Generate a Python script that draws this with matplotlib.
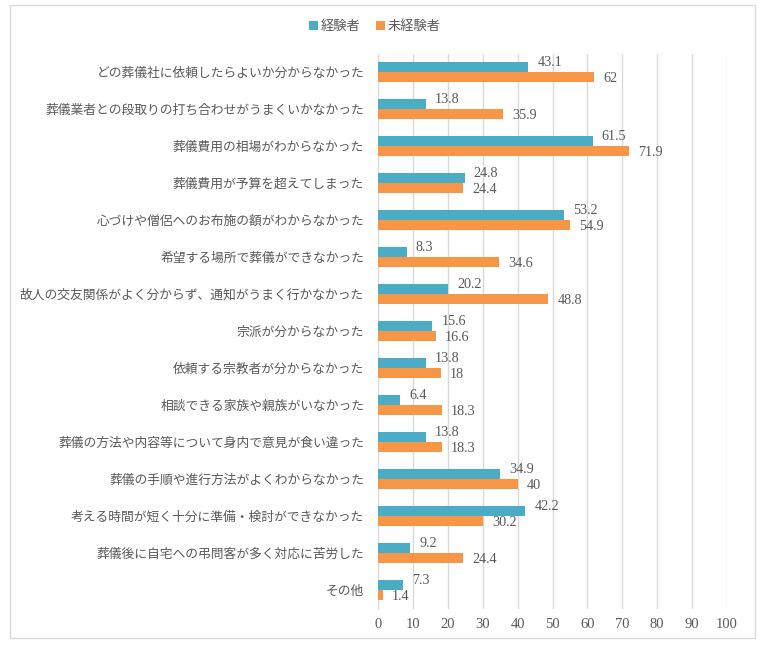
import matplotlib
matplotlib.use("Agg")
import matplotlib.pyplot as plt
from matplotlib.patches import Rectangle
import numpy as np

plt.rcParams['font.family'] = ['Noto Sans CJK JP', 'DejaVu Sans']

categories = [
    "どの葬儀社に依頼したらよいか分からなかった",
    "葬儀業者との段取りの打ち合わせがうまくいかなかった",
    "葬儀費用の相場がわからなかった",
    "葬儀費用が予算を超えてしまった",
    "心づけや僧侶へのお布施の額がわからなかった",
    "希望する場所で葬儀ができなかった",
    "故人の交友関係がよく分からず、通知がうまく行かなかった",
    "宗派が分からなかった",
    "依頼する宗教者が分からなかった",
    "相談できる家族や親族がいなかった",
    "葬儀の方法や内容等について身内で意見が食い違った",
    "葬儀の手順や進行方法がよくわからなかった",
    "考える時間が短く十分に準備・検討ができなかった",
    "葬儀後に自宅への弔問客が多く対応に苦労した",
    "その他",
]
experienced = [43.1, 13.8, 61.5, 24.8, 53.2, 8.3, 20.2, 15.6, 13.8, 6.4, 13.8, 34.9, 42.2, 9.2, 7.3]
inexperienced = [62, 35.9, 71.9, 24.4, 54.9, 34.6, 48.8, 16.6, 18, 18.3, 18.3, 40, 30.2, 24.4, 1.4]
labels_exp = ["43.1", "13.8", "61.5", "24.8", "53.2", "8.3", "20.2", "15.6", "13.8", "6.4", "13.8", "34.9", "42.2", "9.2", "7.3"]
labels_inexp = ["62", "35.9", "71.9", "24.4", "54.9", "34.6", "48.8", "16.6", "18", "18.3", "18.3", "40", "30.2", "24.4", "1.4"]
series_names = ["経験者", "未経験者"]
xticks = list(range(0, 101, 10))

c_blue = "#4BACC6"
c_orange = "#F79646"
text_gray = "#595959"

fig = plt.figure(figsize=(7.65, 6.45), dpi=100)
fig.patches.append(Rectangle((10/765, 1-638/645), 745/765, 633/645,
                             transform=fig.transFigure, fill=False,
                             edgecolor="#D9D9D9", linewidth=1.0))

ax = fig.add_axes([378/765, 1-608.5/645, (727-378)/765, (608.5-53.5)/645])

n = len(categories)
y = np.arange(n)
h = 0.27
ax.barh(y - h/2, experienced, height=h, color=c_blue, label=series_names[0], zorder=3)
ax.barh(y + h/2, inexperienced, height=h, color=c_orange, label=series_names[1], zorder=3)

serif = ['Liberation Serif', 'DejaVu Serif']
for i in range(n):
    ax.annotate(labels_exp[i], (experienced[i], y[i] - h/2), xytext=(6.5, 3.5),
                textcoords='offset points', va='center', ha='left',
                fontsize=10.2, color=text_gray, family=serif)
    ax.annotate(labels_inexp[i], (inexperienced[i], y[i] + h/2), xytext=(6.5, -1),
                textcoords='offset points', va='center', ha='left',
                fontsize=10.2, color=text_gray, family=serif)

ax.set_xlim(0, 100)
ax.set_ylim(n - 0.5, -0.5)
ax.set_xticks(xticks)
ax.set_xticklabels([str(t) for t in xticks], family=serif, fontsize=10.5, color=text_gray)
ax.set_yticks(y)
ax.set_yticklabels(categories, fontsize=9.2, color=text_gray)
ax.tick_params(axis='both', length=0)
ax.tick_params(axis='y', pad=10)
ax.tick_params(axis='x', pad=7)
ax.grid(axis='x', color="#D9D9D9", linewidth=1.0, zorder=0)
for s in ['top', 'right', 'bottom']:
    ax.spines[s].set_visible(False)
ax.spines['left'].set_color("#D9D9D9")

leg = fig.legend(loc='upper center', bbox_to_anchor=(0.49, 1-8/645), ncol=2,
                 frameon=False, fontsize=9.5, handlelength=0.7, handleheight=0.7,
                 handletextpad=0.2, columnspacing=1.2)
for t in leg.get_texts():
    t.set_color(text_gray)

fig.savefig("out.png", dpi=100)
